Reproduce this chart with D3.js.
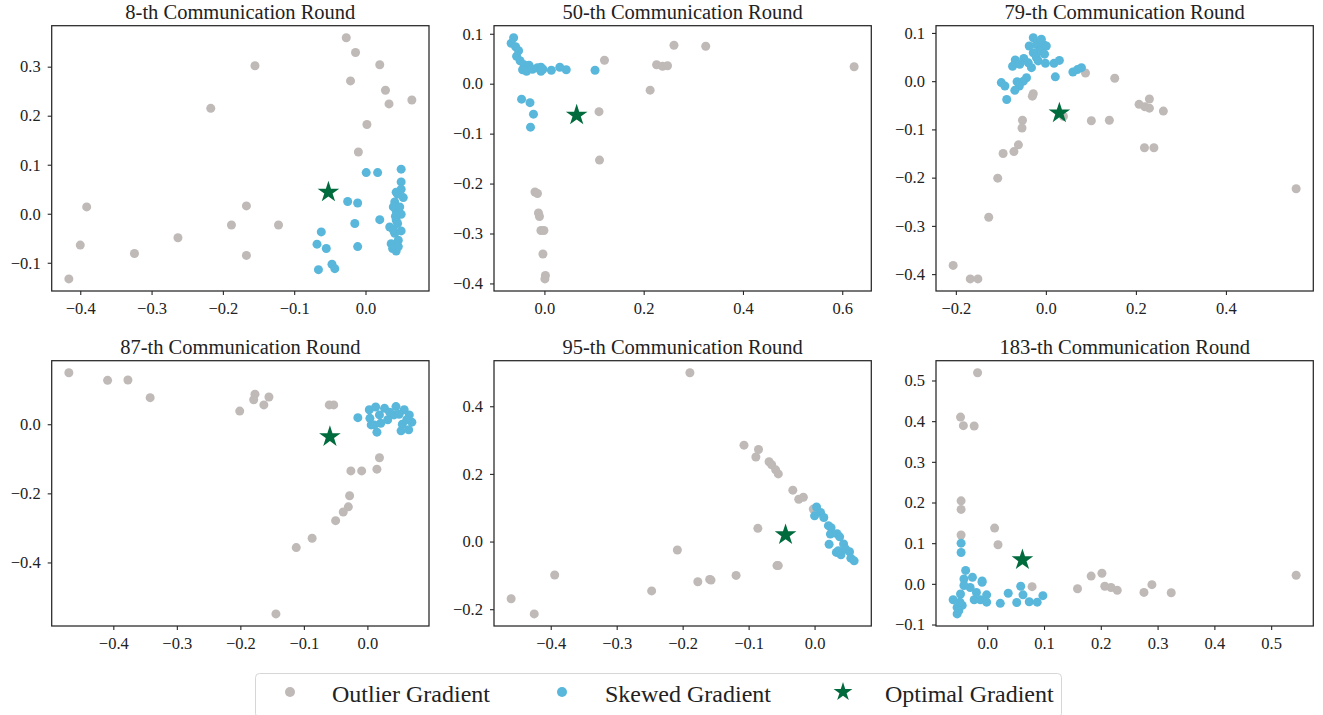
<!DOCTYPE html>
<html>
<head>
<meta charset="utf-8">
<script src="https://cdn.jsdelivr.net/npm/d3@7"></script>
<style>
    body { margin: 0; background: #fff; }
    text { font-family: "Liberation Serif", "Times New Roman", serif; fill: #222; }
</style>
</head>
<body>
<svg id="chart" width="1323" height="715"></svg>
<script>
// ---- data ----
const titles = ["8-th Communication Round", "50-th Communication Round", "79-th Communication Round",
                "87-th Communication Round", "95-th Communication Round", "183-th Communication Round"];

const legendLabels = ["Outlier Gradient", "Skewed Gradient", "Optimal Gradient"];

// round 8
const r8Outlier = [[-0.027,0.359],[-0.014,0.329],[-0.155,0.302],[0.020,0.304],[-0.021,0.271],[0.028,0.252],
    [0.033,0.224],[0.065,0.232],[-0.217,0.215],[0.002,0.182],[-0.010,0.126],[-0.391,0.014],[-0.167,0.016],
    [-0.188,-0.023],[-0.122,-0.023],[-0.263,-0.049],[-0.400,-0.064],[-0.324,-0.081],[-0.167,-0.085],[-0.416,-0.133]];
const r8Skewed = [[0.001,0.084],[0.017,0.084],[0.050,0.091],[0.050,0.065],[0.050,0.050],[0.043,0.044],
    [0.053,0.033],[0.041,0.024],[-0.025,0.025],[-0.011,0.022],[0.043,0.006],[0.050,-0.001],[0.043,-0.013],
    [0.020,-0.012],[-0.015,-0.020],[0.034,-0.027],[0.050,-0.035],[0.041,-0.040],[-0.062,-0.037],[-0.068,-0.062],
    [-0.055,-0.071],[-0.011,-0.067],[0.036,-0.061],[0.046,-0.054],[0.043,-0.076],[-0.047,-0.103],[-0.043,-0.112],
    [-0.066,-0.114],[0.038,-0.071],[0.046,-0.067],[0.039,0.014],[0.048,0.014],[0.039,-0.033],[0.045,0.040],
    [0.045,-0.020],[0.042,-0.005]];
const r8Optimal = [-0.052,0.044];

// round 50
const r50Outlier = [[0.261,0.077],[0.325,0.075],[0.121,0.047],[0.226,0.038],[0.238,0.035],[0.248,0.036],
    [0.624,0.034],[0.213,-0.013],[0.110,-0.056],[0.111,-0.153],[-0.019,-0.217],[-0.014,-0.220],[-0.012,-0.259],
    [-0.010,-0.266],[-0.007,-0.294],[-0.001,-0.294],[-0.003,-0.341],[0.002,-0.384],[0.001,-0.391]];
const r50Skewed = [[-0.062,0.092],[-0.067,0.081],[-0.058,0.074],[-0.052,0.066],[-0.056,0.055],[-0.049,0.046],
    [-0.041,0.038],[-0.031,0.037],[-0.044,0.028],[-0.036,0.025],[-0.024,0.029],[-0.014,0.032],[-0.007,0.033],
    [-0.007,0.025],[-0.003,0.029],[0.014,0.027],[0.031,0.033],[0.044,0.028],[0.102,0.027],[-0.046,-0.031],
    [-0.029,-0.038],[-0.022,-0.061],[-0.028,-0.087]];
const r50Optimal = [0.065,-0.063];

// round 79
const r79Outlier = [[0.088,0.017],[0.153,0.006],[-0.028,-0.026],[-0.030,-0.031],[0.230,-0.037],[0.207,-0.048],
    [0.220,-0.053],[0.230,-0.056],[0.261,-0.062],[-0.052,-0.081],[-0.053,-0.097],[0.101,-0.082],[0.141,-0.081],
    [0.039,-0.073],[-0.061,-0.132],[-0.071,-0.146],[-0.095,-0.150],[0.219,-0.138],[0.240,-0.138],[-0.107,-0.201],
    [-0.127,-0.282],[-0.206,-0.382],[-0.168,-0.410],[-0.151,-0.410],[0.556,-0.223]];
const r79Skewed = [[-0.028,0.090],[-0.037,0.073],[-0.021,0.076],[-0.006,0.076],[-0.013,0.063],[-0.003,0.056],
    [-0.028,0.059],[-0.021,0.049],[-0.049,0.047],[-0.068,0.044],[-0.074,0.031],[-0.058,0.035],[-0.039,0.038],
    [-0.032,0.028],[-0.017,0.042],[-0.001,0.037],[0.018,0.037],[0.030,0.043],[0.021,0.009],[0.060,0.019],
    [0.070,0.024],[0.079,0.028],[-0.043,0.007],[-0.050,0.000],[-0.064,-0.001],[-0.099,-0.003],[-0.091,-0.010],
    [-0.059,-0.010],[-0.069,-0.019],[-0.087,-0.038],[-0.010,0.087],[0.001,0.073]];
const r79Optimal = [0.030,-0.066];

// round 87
const r87Outlier = [[-0.470,0.149],[-0.409,0.127],[-0.377,0.128],[-0.342,0.077],[-0.177,0.087],[-0.179,0.071],
    [-0.155,0.079],[-0.163,0.056],[-0.201,0.038],[-0.060,0.056],[-0.053,0.056],[0.019,-0.097],[0.015,-0.130],
    [-0.026,-0.135],[-0.009,-0.135],[-0.028,-0.207],[-0.030,-0.239],[-0.038,-0.254],[-0.050,-0.279],
    [-0.087,-0.330],[-0.112,-0.357],[-0.144,-0.549]];
const r87Skewed = [[-0.015,0.019],[0.003,0.042],[0.013,0.050],[0.027,0.046],[0.045,0.051],[0.058,0.042],
    [0.066,0.027],[0.070,0.006],[0.065,-0.016],[0.053,-0.019],[0.015,-0.023],[0.006,-0.002],[0.004,0.017],
    [0.019,0.027],[0.032,0.013],[0.042,0.027],[0.055,0.000],[0.050,0.029],[0.035,0.035],[0.021,0.003],
    [0.011,-0.002],[0.062,0.013]];
const r87Optimal = [-0.059,-0.036];

// round 95
const r95Outlier = [[-0.189,0.499],[-0.107,0.285],[-0.085,0.272],[-0.089,0.250],[-0.069,0.236],[-0.065,0.227],
    [-0.059,0.212],[-0.055,0.200],[-0.033,0.152],[-0.024,0.125],[-0.017,0.131],[-0.002,0.096],[-0.086,0.039],
    [-0.208,-0.025],[-0.057,-0.071],[-0.055,-0.071],[-0.394,-0.099],[-0.119,-0.100],[-0.159,-0.112],
    [-0.157,-0.114],[-0.177,-0.119],[-0.247,-0.146],[-0.460,-0.169],[-0.425,-0.214]];
const r95Skewed = [[0.003,0.102],[0.000,0.076],[0.009,0.086],[0.014,0.071],[0.021,0.047],[0.025,0.041],
    [0.024,0.022],[0.034,0.023],[0.038,0.014],[0.044,-0.007],[0.022,-0.008],[0.033,-0.032],[0.040,-0.039],
    [0.047,-0.022],[0.053,-0.030],[0.055,-0.049],[0.060,-0.057],[0.036,-0.027]];
const r95Optimal = [-0.044,0.020];

// round 183
const r183Outlier = [[-0.017,0.519],[-0.047,0.410],[-0.042,0.389],[-0.023,0.388],[-0.046,0.204],[-0.046,0.183],
    [-0.046,0.120],[0.013,0.137],[0.019,0.096],[0.079,-0.007],[0.159,-0.012],[0.183,0.019],[0.202,0.026],
    [0.207,-0.006],[0.218,-0.009],[0.229,-0.016],[0.276,-0.021],[0.290,-0.002],[0.324,-0.022],[0.544,0.021]];
const r183Skewed = [[-0.046,0.100],[-0.046,0.077],[-0.038,0.033],[-0.041,0.012],[-0.026,0.016],[-0.009,0.007],
    [-0.009,0.004],[-0.030,-0.009],[-0.019,-0.021],[-0.001,-0.027],[-0.023,-0.039],[-0.012,-0.039],[-0.001,-0.045],
    [-0.060,-0.039],[-0.047,-0.025],[-0.053,-0.058],[-0.053,-0.074],[-0.044,-0.053],[-0.041,-0.004],[0.023,-0.048],
    [0.037,-0.023],[0.052,-0.046],[0.059,-0.006],[0.063,-0.027],[0.074,-0.044],[0.088,-0.045],[0.098,-0.029],
    [-0.048,-0.045],[-0.050,-0.066]];
const r183Optimal = [0.062,0.059];

// tick values per panel
const xTicks = [[-0.4,-0.3,-0.2,-0.1,0.0], [0.0,0.2,0.4,0.6], [-0.2,0.0,0.2,0.4],
                [-0.4,-0.3,-0.2,-0.1,0.0], [-0.4,-0.3,-0.2,-0.1,0.0], [0.0,0.1,0.2,0.3,0.4,0.5]];
const yTicks = [[-0.1,0.0,0.1,0.2,0.3], [-0.4,-0.3,-0.2,-0.1,0.0,0.1], [-0.4,-0.3,-0.2,-0.1,0.0,0.1],
                [-0.4,-0.2,0.0], [-0.2,0.0,0.2,0.4], [-0.1,0.0,0.1,0.2,0.3,0.4,0.5]];

const panels = [
    {outlier: r8Outlier, skewed: r8Skewed, optimal: r8Optimal},
    {outlier: r50Outlier, skewed: r50Skewed, optimal: r50Optimal},
    {outlier: r79Outlier, skewed: r79Skewed, optimal: r79Optimal},
    {outlier: r87Outlier, skewed: r87Skewed, optimal: r87Optimal},
    {outlier: r95Outlier, skewed: r95Skewed, optimal: r95Optimal},
    {outlier: r183Outlier, skewed: r183Skewed, optimal: r183Optimal}
];

// ---- style / layout ----
const grey = "#bfb9b7", blue = "#58b7da", green = "#006b3c", ink = "#262626";
const lefts = [51.7, 494, 936], tops = [25.7, 360.7];
const pw = 377.3, ph = 265.3;
const fmt = d3.format(".1f");

const svg = d3.select("#chart");

// matplotlib-style autoscale: data extent + 5% margin
function padded(vals) {
    const [lo, hi] = d3.extent(vals);
    const m = (hi - lo) * 0.05;
    return [lo - m, hi + m];
}

panels.forEach((p, i) => {
    const left = lefts[i % 3], top = tops[Math.floor(i / 3)];
    const all = p.outlier.concat(p.skewed, [p.optimal]);

    const x = d3.scaleLinear().domain(padded(all.map(d => d[0]))).range([0, pw]);
    const y = d3.scaleLinear().domain(padded(all.map(d => d[1]))).range([ph, 0]);

    const g = svg.append("g").attr("transform", `translate(${left},${top})`);

    const xAxis = g.append("g")
        .attr("transform", `translate(0,${ph})`)
        .call(d3.axisBottom(x).tickValues(xTicks[i]).tickFormat(fmt).tickSize(4).tickPadding(7));
    const yAxis = g.append("g")
        .call(d3.axisLeft(y).tickValues(yTicks[i]).tickFormat(fmt).tickSize(4).tickPadding(7));

    [xAxis, yAxis].forEach(a => {
        a.select(".domain").remove();
        a.selectAll("line").attr("stroke", ink).attr("stroke-width", 1.1);
        a.selectAll("text")
            .attr("fill", "#222")
            .style("font-family", '"Liberation Serif", serif')
            .style("font-size", "16.5px");
    });

    g.append("g").selectAll("circle")
        .data(p.outlier)
        .join("circle")
        .attr("cx", d => x(d[0]))
        .attr("cy", d => y(d[1]))
        .attr("r", 4.5)
        .attr("fill", grey);

    g.append("g").selectAll("circle")
        .data(p.skewed)
        .join("circle")
        .attr("cx", d => x(d[0]))
        .attr("cy", d => y(d[1]))
        .attr("r", 4.5)
        .attr("fill", blue);

    g.append("path")
        .attr("d", d3.symbol(d3.symbolStar, 145)())
        .attr("transform", `translate(${x(p.optimal[0])},${y(p.optimal[1])})`)
        .attr("fill", green);

    g.append("rect")
        .attr("width", pw).attr("height", ph)
        .attr("fill", "none")
        .attr("stroke", ink)
        .attr("stroke-width", 1.25);

    g.append("text")
        .attr("x", pw / 2)
        .attr("y", -7.2)
        .attr("text-anchor", "middle")
        .style("font-size", "20.5px")
        .text(titles[i]);
});

// ---- legend ----
const legend = svg.append("g");
legend.append("rect")
    .attr("x", 255.5).attr("y", 673.5)
    .attr("width", 806).attr("height", 44)
    .attr("rx", 4)
    .attr("fill", "#fff")
    .attr("stroke", "#d6d6d6")
    .attr("stroke-width", 1);

const legendX = [290, 562, 843];
const legendText = [332, 605, 885];
const legendColor = [grey, blue, green];

legendLabels.forEach((lab, i) => {
    if (i < 2) {
        legend.append("circle")
            .attr("cx", legendX[i]).attr("cy", 692)
            .attr("r", 5)
            .attr("fill", legendColor[i]);
    } else {
        legend.append("path")
            .attr("d", d3.symbol(d3.symbolStar, 110)())
            .attr("transform", `translate(${legendX[i]},692)`)
            .attr("fill", legendColor[i]);
    }
    legend.append("text")
        .attr("x", legendText[i])
        .attr("y", 701.5)
        .style("font-size", "24px")
        .text(lab);
});
</script>
</body>
</html>
